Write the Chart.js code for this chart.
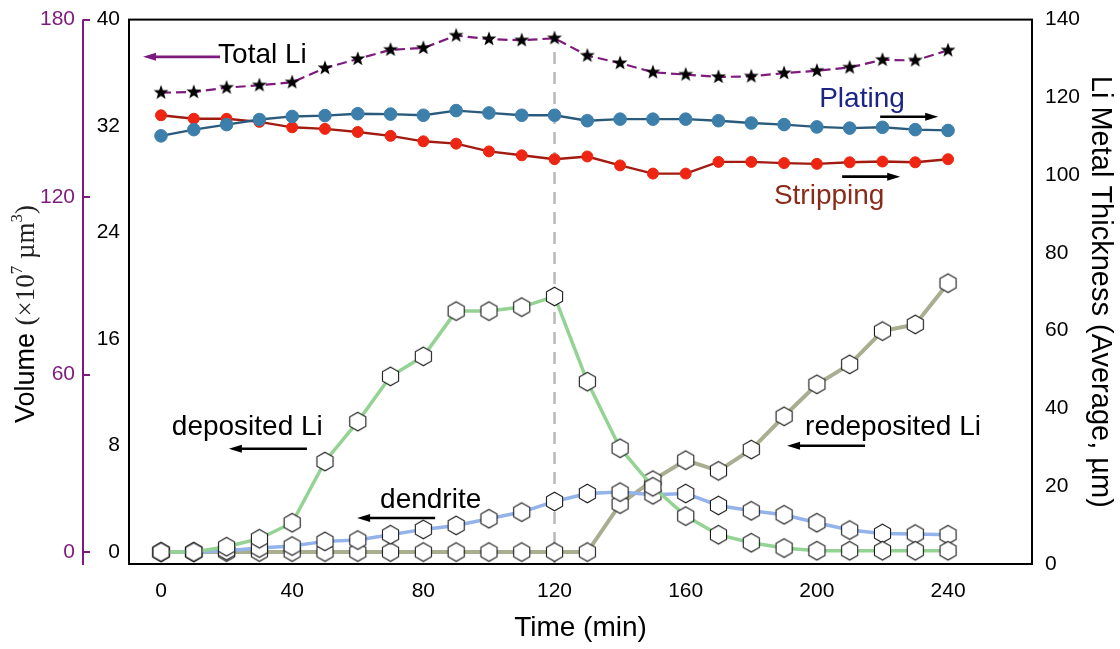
<!DOCTYPE html>
<html>
<head>
<meta charset="utf-8">
<title>Li volume and thickness vs time</title>
<script src="https://cdn.jsdelivr.net/npm/chart.js@4.4.1/dist/chart.umd.min.js"></script>
<style>
  html, body { margin: 0; padding: 0; background: #fff; }
  #wrap { width: 1120px; height: 649px; }
</style>
</head>
<body>
<div id="wrap"><canvas id="chart"></canvas></div>
<script>
// sampling times (min)
const times = [0, 10, 20, 30, 40, 50, 60, 70, 80, 90, 100, 110, 120,
               130, 140, 150, 160, 170, 180, 190, 200, 210, 220, 230, 240];

// total Li volume (x10^7 um^3, outer purple axis)
const totalLi = [155.3, 155.5, 157.0, 157.8, 158.8, 163.6, 166.7, 169.8, 170.4, 174.6, 173.4, 173.0, 173.7,
                 167.8, 165.3, 162.2, 161.4, 160.6, 160.8, 161.9, 162.7, 163.8, 166.4, 166.2, 169.6];

// average Li metal thickness (um, right axis)
const plating = [110.1, 111.7, 113.0, 114.3, 115.1, 115.3, 115.8, 115.7, 115.4, 116.6, 116.0, 115.4, 115.4,
                 114.0, 114.4, 114.4, 114.4, 114.0, 113.4, 113.0, 112.4, 112.1, 112.3, 111.7, 111.5];
const stripping = [115.4, 114.5, 114.5, 113.7, 112.3, 111.9, 111.1, 110.1, 108.7, 108.1, 106.1, 105.1, 104.1,
                   104.8, 102.5, 100.4, 100.4, 103.4, 103.4, 103.1, 102.9, 103.3, 103.5, 103.3, 104.1];

// component volumes (x10^7 um^3, inner left axis)
const deposited = [0, 0, 0.4, 1.0, 2.2, 6.8, 9.8, 13.2, 14.7, 18.1, 18.1, 18.4, 19.2,
                   12.8, 7.8, 4.9, 2.7, 1.3, 0.7, 0.3, 0.1, 0.1, 0.1, 0.1, 0.1];
const dendrite = [0, 0, 0.1, 0.3, 0.45, 0.8, 0.9, 1.3, 1.7, 2.0, 2.5, 3.0, 3.8,
                  4.4, 4.5, 4.3, 4.4, 3.5, 3.1, 2.8, 2.2, 1.65, 1.4, 1.35, 1.3];
const redeposited = [0, 0, 0, 0, 0, 0, 0, 0, 0, 0, 0, 0, 0,
                     0, 3.6, 5.4, 6.9, 6.1, 7.7, 10.2, 12.6, 14.1, 16.6, 17.1, 20.2];

const timeTicks = [0, 40, 80, 120, 160, 200, 240];
const volumeTicks = [0, 8, 16, 24, 32, 40];
const totalTicks = [0, 60, 120, 180];
const thicknessTicks = [0, 20, 40, 60, 80, 100, 120, 140];

// plating -> stripping switch
const switchTime = 120;
const switchSpan = [-0.9, 38];

const SANS = "'Liberation Sans', Arial, sans-serif";
const SERIF = "'Liberation Serif', 'Times New Roman', serif";
const PURPLE = '#7e1a7e';

const pts = arr => times.map((t, i) => ({ x: t, y: arr[i] }));

function makeHexagon(r) {
  const size = Math.ceil(r * 2 + 4);
  const c = document.createElement('canvas');
  c.width = c.height = size;
  const g = c.getContext('2d');
  g.beginPath();
  for (let i = 0; i < 6; i++) {
    const a = -Math.PI / 2 + i * Math.PI / 3;
    const px = size / 2 + r * Math.cos(a);
    const py = size / 2 + r * Math.sin(a);
    if (i) g.lineTo(px, py); else g.moveTo(px, py);
  }
  g.closePath();
  g.fillStyle = '#fff';
  g.fill();
  g.strokeStyle = '#1a1a1a';
  g.lineWidth = 1.1;
  g.stroke();
  return c;
}

function makeStar(R, r) {
  const size = Math.ceil(R * 2 + 4);
  const c = document.createElement('canvas');
  c.width = c.height = size;
  const g = c.getContext('2d');
  g.beginPath();
  for (let i = 0; i < 10; i++) {
    const a = -Math.PI / 2 + i * Math.PI / 5;
    const rad = i % 2 ? r : R;
    const px = size / 2 + rad * Math.cos(a);
    const py = size / 2 + rad * Math.sin(a);
    if (i) g.lineTo(px, py); else g.moveTo(px, py);
  }
  g.closePath();
  g.fillStyle = '#000';
  g.fill();
  return c;
}

const hexagon = makeHexagon(9.3);
const star = makeStar(7.8, 3.2);

// text labels with arrows, in data units of x / yVol
const notes = [
  { text: 'Total Li', color: '#000', x: 17.4, y: 37.3, arrow: { x1: 18.0, x2: -5.5, y: 37.2, color: PURPLE } },
  { text: 'Plating', color: '#1c2486', x: 200.7, y: 34.0, arrow: { x1: 219.3, x2: 237.0, y: 32.7, color: '#000' } },
  { text: 'Stripping', color: '#8a2a18', x: 186.9, y: 26.7, arrow: { x1: 207.7, x2: 225.4, y: 28.2, color: '#000' } },
  { text: 'deposited Li', color: '#000', x: 3.3, y: 9.4, arrow: { x1: 44.5, x2: 20.7, y: 7.76, color: '#000' } },
  { text: 'dendrite', color: '#000', x: 66.8, y: 3.9, arrow: { x1: 83.6, x2: 59.8, y: 2.56, color: '#000' } },
  { text: 'redeposited Li', color: '#000', x: 196.4, y: 9.4, arrow: { x1: 214.7, x2: 190.9, y: 7.98, color: '#000' } }
];

function drawArrow(ctx, x1, x2, y, color) {
  const dir = Math.sign(x2 - x1);
  ctx.save();
  ctx.strokeStyle = color;
  ctx.fillStyle = color;
  ctx.lineWidth = 2.6;
  ctx.beginPath();
  ctx.moveTo(x1, y);
  ctx.lineTo(x2 - dir * 8, y);
  ctx.stroke();
  ctx.beginPath();
  ctx.moveTo(x2, y);
  ctx.lineTo(x2 - dir * 13, y - 4);
  ctx.lineTo(x2 - dir * 13, y + 4);
  ctx.closePath();
  ctx.fill();
  ctx.restore();
}

const decorations = {
  id: 'decorations',
  afterDatasetsDraw(chart) {
    const { ctx, chartArea: a, scales } = chart;
    const sx = scales.x, sv = scales.yVol, st = scales.yTot;

    // plot frame
    ctx.save();
    ctx.strokeStyle = '#000';
    ctx.lineWidth = 2;
    ctx.strokeRect(a.left, a.top, a.right - a.left, a.bottom - a.top);

    // outer purple axis line with inward ticks
    const ax = st.right - 7;
    ctx.strokeStyle = PURPLE;
    ctx.lineWidth = 2;
    ctx.beginPath();
    ctx.moveTo(ax, a.top);
    ctx.lineTo(ax, a.bottom + 1);
    totalTicks.forEach(v => {
      const py = Math.round(st.getPixelForValue(v));
      ctx.moveTo(ax, py);
      ctx.lineTo(ax + 7, py);
    });
    ctx.stroke();

    // annotations
    ctx.font = '28px ' + SANS;
    ctx.textBaseline = 'middle';
    ctx.textAlign = 'left';
    notes.forEach(n => {
      ctx.fillStyle = n.color;
      ctx.fillText(n.text, sx.getPixelForValue(n.x), sv.getPixelForValue(n.y));
      const ar = n.arrow;
      drawArrow(ctx, sx.getPixelForValue(ar.x1), sx.getPixelForValue(ar.x2), sv.getPixelForValue(ar.y), ar.color);
    });

    // left axis title with super-scripts
    const parts = [
      { t: 'Volume ', f: '27px ' + SANS, dy: 0 },
      { t: '(\u00d710', f: '27px ' + SERIF, dy: 0 },
      { t: '7', f: '17px ' + SERIF, dy: -9 },
      { t: ' \u00b5m', f: '27px ' + SERIF, dy: 0 },
      { t: '3', f: '17px ' + SERIF, dy: -9 },
      { t: ')', f: '27px ' + SERIF, dy: 0 }
    ];
    let total = 0;
    parts.forEach(p => { ctx.font = p.f; p.w = ctx.measureText(p.t).width; total += p.w; });
    ctx.translate(27, 314);
    ctx.rotate(-Math.PI / 2);
    let cx = -total / 2;
    parts.forEach(p => {
      ctx.font = p.f;
      ctx.fillStyle = p.f.indexOf('Serif') >= 0 ? '#222' : '#000';
      ctx.fillText(p.t, cx, p.dy);
      cx += p.w;
    });
    ctx.restore();
  }
};

const tickFont = { family: SANS, size: 21 };
const fixedTicks = list => scale => { scale.ticks = list.map(v => ({ value: v })); };

new Chart(document.getElementById('chart'), {
  type: 'line',
  data: {
    datasets: [
      {
        label: 'Total Li', data: pts(totalLi), yAxisID: 'yTot',
        borderColor: PURPLE, borderWidth: 2.2, borderDash: [10, 5],
        pointStyle: star, pointRadius: 8
      },
      {
        label: 'Plating', data: pts(plating), yAxisID: 'yThk',
        borderColor: '#2b5b7c', borderWidth: 2.4,
        pointStyle: 'circle', pointRadius: 6.3, pointBackgroundColor: '#3d7fab', pointBorderColor: '#3d7fab', pointBorderWidth: 1
      },
      {
        label: 'Stripping', data: pts(stripping), yAxisID: 'yThk',
        borderColor: '#a11b10', borderWidth: 2.4,
        pointStyle: 'circle', pointRadius: 5.5, pointBackgroundColor: '#ee2512', pointBorderColor: '#ee2512', pointBorderWidth: 1
      },
      {
        label: 'deposited Li', data: pts(deposited), yAxisID: 'yVol',
        borderColor: '#94d394', borderWidth: 3.5,
        pointStyle: hexagon, pointRadius: 9
      },
      {
        label: 'dendrite', data: pts(dendrite), yAxisID: 'yVol',
        borderColor: '#93b3ea', borderWidth: 3.5,
        pointStyle: hexagon, pointRadius: 9
      },
      {
        label: 'redeposited Li', data: pts(redeposited), yAxisID: 'yVol',
        borderColor: '#aaae90', borderWidth: 4,
        pointStyle: hexagon, pointRadius: 9
      },
      {
        label: 'switch', data: switchSpan.map(v => ({ x: switchTime, y: v })), yAxisID: 'yVol',
        borderColor: '#b9b9b9', borderWidth: 2.5, borderDash: [12, 8],
        pointRadius: 0
      }
    ]
  },
  options: {
    responsive: true,
    maintainAspectRatio: false,
    animation: false,
    events: [],
    layout: { autoPadding: false, padding: { top: 13, left: 0, right: 0, bottom: 0 } },
    elements: { line: { tension: 0, fill: false } },
    plugins: { legend: { display: false }, tooltip: { enabled: false } },
    scales: {
      x: {
        type: 'linear', min: -9.76, max: 265.6,
        afterBuildTicks: fixedTicks(timeTicks),
        afterFit: s => { s.height = 85; },
        grid: { display: false }, border: { display: false },
        ticks: { font: tickFont, color: '#000', padding: 7, maxRotation: 0 },
        title: { display: true, text: 'Time (min)', color: '#000', font: { family: SANS, size: 28 }, padding: { top: 0, bottom: 4 } }
      },
      yVol: {
        type: 'linear', position: 'left', min: -0.9, max: 40,
        afterBuildTicks: fixedTicks(volumeTicks),
        afterFit: s => { s.width = 39; },
        grid: { display: false }, border: { display: false },
        ticks: { font: tickFont, color: '#000', padding: 1 }
      },
      yTot: {
        type: 'linear', position: 'left', min: -4.05, max: 180,
        afterBuildTicks: fixedTicks(totalTicks),
        afterFit: s => { s.width = 90; },
        grid: { display: false }, border: { display: false },
        ticks: { font: tickFont, color: PURPLE, padding: 7 }
      },
      yThk: {
        type: 'linear', position: 'right', min: 0, max: 140,
        afterBuildTicks: fixedTicks(thicknessTicks),
        afterFit: s => { s.width = 88; },
        grid: { display: false }, border: { display: false },
        ticks: { font: tickFont, color: '#000', padding: 5 },
        title: { display: true, text: 'Li Metal Thickness (Average, \u00b5m)', color: '#000', font: { family: SANS, size: 29 }, padding: { top: 3, bottom: 0 } }
      }
    }
  },
  plugins: [decorations]
});
</script>
</body>
</html>
